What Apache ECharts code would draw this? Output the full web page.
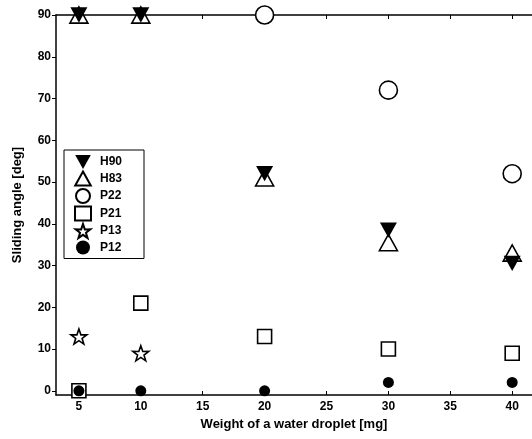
<!DOCTYPE html>
<html><head><meta charset="utf-8">
<script src="https://cdn.jsdelivr.net/npm/echarts@6/dist/echarts.min.js"></script>
<style>html,body{margin:0;padding:0;background:#fff}#c{width:532px;height:439px}</style>
</head><body><div id="c"></div>
<script>
var xTicks = [5, 10, 15, 20, 25, 30, 35, 40];
var yTicks = [0, 10, 20, 30, 40, 50, 60, 70, 80, 90];
var seriesNames = ['H90', 'H83', 'P22', 'P21', 'P13', 'P12'];
var H90 = [[5, 90], [10, 90], [20, 52], [30, 38.5], [40, 30.5]];
var H83 = [[5, 90], [10, 90], [20, 51], [30, 35.5], [40, 33]];
var P22 = [[20, 90], [30, 72], [40, 52]];
var P21 = [[5, 0], [10, 21], [20, 13], [30, 10], [40, 9]];
var P13 = [[5, 13], [10, 9]];
var P12 = [[5, 0], [10, 0], [20, 0], [30, 2], [40, 2]];

var downTri = 'path://M0,0 L20,0 L10,18 Z';
var upTri = 'path://M10,0 L20,18 L0,18 Z';
var star = 'path://M50,0 L61.8,35.1 L97.6,34.5 L69.1,56.7 L79.4,90.5 L50,70 L20.6,90.5 L30.9,56.7 L2.4,34.5 L38.2,35.1 Z';
var font = 'Liberation Sans';

function sc(name, data, symbol, size, fill, extra) {
  var s = {
    name: name, type: 'scatter', data: data, symbol: symbol, symbolSize: size,
    symbolKeepAspect: true,
    itemStyle: { color: fill, borderColor: '#000', borderWidth: fill === '#000' ? 0 : 1.6, opacity: 1 },
    emphasis: { disabled: true }
  };
  if (extra) for (var k in extra) s[k] = extra[k];
  return s;
}

var chart = echarts.init(document.getElementById('c'), null, { renderer: 'canvas' });
chart.setOption({
  animation: false,
  backgroundColor: '#fff',
  grid: { left: 56, top: 15, width: 478, height: 380, containLabel: false },
  xAxis: [{
    type: 'value', min: 3.15, max: 41.6, position: 'bottom',
    name: 'Weight of a water droplet [mg]', nameLocation: 'middle', nameGap: 22,
    nameTextStyle: { fontFamily: font, fontWeight: 'bold', fontSize: 13, color: '#000' },
    axisLine: { show: true, onZero: false, lineStyle: { color: '#000', width: 1.5 } },
    axisTick: { show: true, inside: true, length: 4, customValues: xTicks, lineStyle: { color: '#000' } },
    axisLabel: { customValues: xTicks, fontFamily: font, fontWeight: 'bold', fontSize: 12, color: '#000', margin: 6 },
    splitLine: { show: false }
  }, {
    type: 'value', min: 3.15, max: 41.6, position: 'top',
    axisLine: { show: true, onZero: false, lineStyle: { color: '#000', width: 1.5 } },
    axisTick: { show: true, inside: true, length: 4, customValues: xTicks, lineStyle: { color: '#000' } },
    axisLabel: { show: false },
    splitLine: { show: false }
  }],
  yAxis: [{
    type: 'value', min: -1, max: 90,
    name: 'Sliding angle [deg]', nameLocation: 'middle', nameGap: 32, nameRotate: 90,
    nameTextStyle: { fontFamily: font, fontWeight: 'bold', fontSize: 13, color: '#000' },
    axisLine: { show: true, onZero: false, lineStyle: { color: '#000', width: 1.5 } },
    axisTick: { show: true, inside: false, length: 4, customValues: yTicks, lineStyle: { color: '#000' } },
    axisLabel: { customValues: yTicks, fontFamily: font, fontWeight: 'bold', fontSize: 12, color: '#000', margin: 5 },
    splitLine: { show: false }
  }],
  legend: {
    orient: 'vertical', left: 64, top: 150, width: 80,
    backgroundColor: '#fff', borderColor: '#000', borderWidth: 1, borderRadius: 0,
    padding: [5, 22, 4, 10], itemGap: 1.5, itemWidth: 16, itemHeight: 14,
    textStyle: { fontFamily: font, fontWeight: 'bold', fontSize: 12, lineHeight: 14, color: '#000', padding: [0, 0, 0, 4] },
    data: seriesNames
  },
  series: [
    sc('P21', P21, 'rect', 14, '#fff'),
    sc('P22', P22, 'circle', 18, '#fff'),
    sc('P13', P13, star, 16, '#fff'),
    sc('H83', H83, upTri, 18, '#fff'),
    sc('H90', H90, downTri, 17, '#000'),
    sc('P12', P12, 'circle', 11, '#000')
  ]
});
</script></body></html>
